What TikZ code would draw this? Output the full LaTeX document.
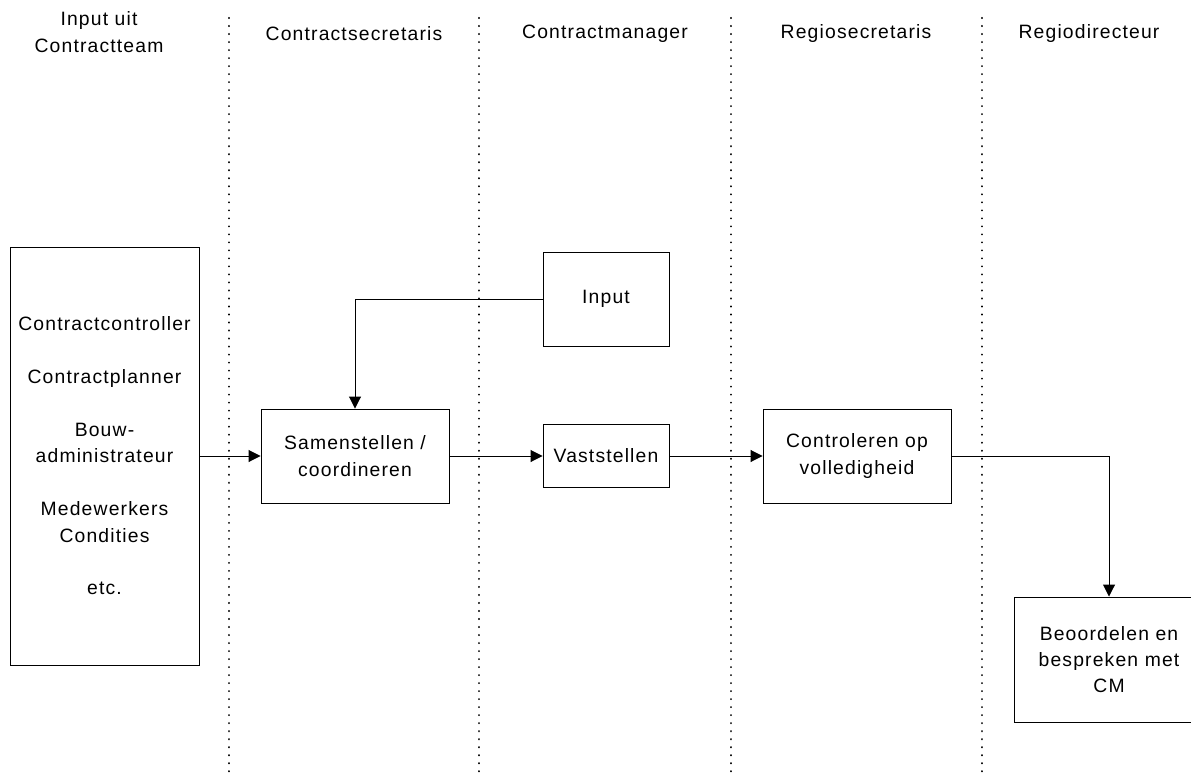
\documentclass[tikz,border=0pt]{standalone}
\usepackage{fontspec}
\setmainfont{Liberation Sans}[LetterSpace=6]
\usetikzlibrary{arrows.meta}
\usetikzlibrary{positioning}

\begin{document}
\begin{tikzpicture}[x=.75pt, y=-.75pt,
  every node/.style={font=\fontsize{14.5}{19.8}\selectfont, align=center},
  box/.style={draw, line width=.7pt, inner sep=0pt},
  flow/.style={line width=.7pt, ->, >={Triangle[length=9pt,width=9pt]}},
  lane/.style={line width=1.6pt, dash pattern=on .01pt off 6pt, line cap=round}]
\useasboundingbox (0,0) rectangle (1191,781);
\foreach \x in {229,479,731,982} {
 \draw[lane] (\x,18)--(\x,775);
}
\node (h1) at (99,32) {Input uit\\Contractteam};
\node (h2) at (354,34) {Contractsecretaris};
\node (h3) at (605,34) {Contractmanager};
\node (h4) at (856,34) {Regiosecretaris};
\node (h5) at (1089,34) {Regiodirecteur};
\node[box, minimum width=141.75pt, minimum height=313.5pt] (team) at (104.5,456)
 {Contractcontroller\\[19.8pt]Contractplanner\\[19.8pt]Bouw-\\administrateur\\[19.8pt]Medewerkers\\Condities\\[19.8pt]etc.};
\node[box, minimum width=141pt, minimum height=70.5pt] (samen) at (355,456) {Samenstellen /\\coordineren};
\node[box, minimum width=94.5pt, minimum height=70.5pt] (input) at (606,299) {Input};
\node[box, minimum width=94.5pt, minimum height=47.25pt] (vast) at (606,456) {Vaststellen};
\node[box, minimum width=141pt, minimum height=70.5pt] (contr) at (857,456) {Controleren op\\volledigheid};
\node[box, minimum width=142.5pt, minimum height=93.75pt] (beoor) at (1109,659.5) {Beoordelen en\\bespreken met\\CM};
\draw[flow] (team) -- (samen);
\draw[flow] (samen) -- (vast);
\draw[flow] (vast) -- (contr);
\draw[flow] (input.west) -| (samen.north);
\draw[flow] (contr.east) -| (beoor.north);
\end{tikzpicture}
\end{document}
